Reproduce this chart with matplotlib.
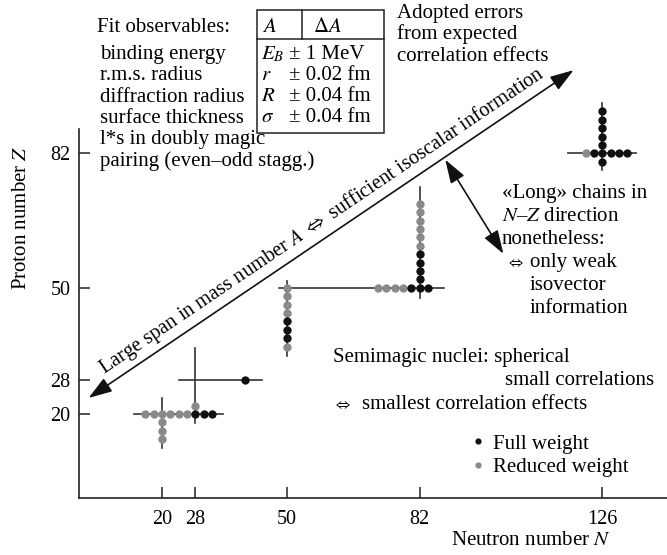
import matplotlib
matplotlib.use("Agg")
import matplotlib.pyplot as plt
from matplotlib.lines import Line2D
from matplotlib.patches import Rectangle

plt.rcParams['font.family'] = ['Liberation Serif', 'DejaVu Serif']
plt.rcParams['mathtext.fontset'] = 'stix'

# nuclei with full weight (black)
full_N = [28, 30, 32, 40, 50, 50, 50, 80, 82, 84, 82, 82, 82, 82,
          126, 126, 126, 126, 126, 126, 126, 124, 128, 130, 132]
full_Z = [20, 20, 20, 28, 42, 40, 38, 50, 50, 50, 52, 54, 56, 58,
          80, 82, 84, 86, 88, 90, 92, 82, 82, 82, 82]

# nuclei with reduced weight (gray)
red_N = [16, 18, 20, 22, 24, 26, 20, 20, 20, 28, 50, 50, 50, 50, 50,
         72, 74, 76, 78, 82, 82, 82, 82, 82, 82, 122]
red_Z = [20, 20, 20, 20, 20, 20, 18, 16, 14, 22, 50, 48, 46, 44, 36,
         50, 50, 50, 50, 60, 62, 64, 66, 68, 70, 82]

# magic-number lines: (Z, N from, N to) and (N, Z from, Z to)
h_lines = [(20, 13.2, 34.7), (28, 24.2, 44.0), (50, 48.1, 87.8), (82, 117.7, 134.1)]
v_lines = [(20, 11.9, 23.9), (28, 17.8, 35.8), (50, 33.8, 51.7), (82, 47.7, 73.9), (126, 78.0, 94.1)]

magic_N = [20, 28, 50, 82, 126]
magic_Z = [20, 28, 50, 82]

W, H = 667, 555
fig = plt.figure(figsize=(W / 100, H / 100), dpi=100)
ax = fig.add_axes([79 / W, 57 / H, (W - 79) / W, (498 - 129) / H])


def px(x, y):
    # pixel position (from top left) -> figure fraction
    return x / W, 1 - y / H


line_col = '#333333'
for z, n0, n1 in h_lines:
    ax.plot([n0, n1], [z, z], color=line_col, lw=1.2, clip_on=False, zorder=2)
for n, z0, z1 in v_lines:
    ax.plot([n, n], [z0, z1], color=line_col, lw=1.2, clip_on=False, zorder=2)

ax.plot(red_N, red_Z, 'o', color='#8a8a8a', ms=6, mec='none', clip_on=False, zorder=3)
ax.plot(full_N, full_Z, 'o', color='#111111', ms=6, mec='none', clip_on=False, zorder=3)

ax.set_xlim(0, 141.6)
ax.set_ylim(0, 87.8)
ax.set_xticks(magic_N)
ax.set_yticks(magic_Z)
ax.spines['top'].set_visible(False)
ax.spines['right'].set_visible(False)
for s in ['left', 'bottom']:
    ax.spines[s].set_linewidth(1.2)
    ax.spines[s].set_color('#222222')
ax.tick_params(direction='in', length=8, width=1.1, labelsize=14.5, color='#222222')
ax.tick_params(axis='x', pad=9)
ax.tick_params(axis='y', pad=6)

fs = 15
ax.set_xlabel('Neutron number $N$', fontsize=fs)
ax.xaxis.set_label_coords((531 - 79) / 588, (498 - 531) / 369)
ax.set_ylabel('Proton number $Z$', fontsize=fs)
ax.yaxis.set_label_coords((31 - 79) / 588, (498 - 218) / 369)

# left text block
left_lines = ['binding energy', 'r.m.s. radius', 'diffraction radius',
              'surface thickness', 'l*s in doubly magic', 'pairing (even\u2013odd stagg.)']
fig.text(*px(97, 32), 'Fit observables:', fontsize=fs, va='baseline')
for i, t in enumerate(left_lines):
    fig.text(*px(100.5, 59 + 21.3 * i), t, fontsize=fs, va='baseline')

# table of adopted errors
tab_sym = ['$E_B$', '$r$', '$R$', r'$\sigma$']
tab_err = ['\u00b1 1 MeV', '\u00b1 0.02 fm', '\u00b1 0.04 fm', '\u00b1 0.04 fm']
fig.add_artist(Rectangle(px(256.7, 132.7), 127.6 / W, 122.7 / H, fill=False,
                         lw=1.1, ec='#222222', transform=fig.transFigure))
fig.add_artist(Line2D([256.7 / W, 384.3 / W], [1 - 39.3 / H] * 2, lw=1.1, color='#222222'))
fig.add_artist(Line2D([301.7 / W] * 2, [1 - 10 / H, 1 - 39.3 / H], lw=1.1, color='#222222'))
fig.text(*px(262, 32), '$A$', fontsize=fs, va='baseline')
fig.text(*px(313, 32), r'$\Delta A$', fontsize=fs, va='baseline')
for i, (s, e) in enumerate(zip(tab_sym, tab_err)):
    fig.text(*px(261, 59 + 21 * i), s, fontsize=fs, va='baseline')
    fig.text(*px(289, 59 + 21 * i), e, fontsize=fs, va='baseline')

for i, t in enumerate(['Adopted errors', 'from expected', 'correlation effects']):
    fig.text(*px(397, 18 + 21.5 * i), t, fontsize=fs, va='baseline')

# long diagonal arrow
ax.annotate('', xy=(2.3, 23.8), xytext=(119.1, 101.8), annotation_clip=False,
            arrowprops=dict(arrowstyle='<|-|>,head_length=0.9,head_width=0.3',
                            mutation_scale=16, lw=1.2, color='#111111',
                            shrinkA=0, shrinkB=0))
fig.text(*px(322, 221),
         r'Large span in mass number $A$ $\Leftrightarrow$ sufficient isoscalar information',
         fontsize=14.7, rotation=34.05, ha='center', va='center', rotation_mode='anchor')

# arrow to the lead chain
ax.annotate('', xy=(88.2, 80.5), xytext=(102.2, 58.1), annotation_clip=False,
            arrowprops=dict(arrowstyle='<|-|>,head_length=0.9,head_width=0.3',
                            mutation_scale=16, lw=1.2, color='#111111',
                            shrinkA=0, shrinkB=0))

long_lines = ['\u00abLong\u00bb chains in', '$N$\u2013$Z$ direction', 'nonetheless:']
for i, t in enumerate(long_lines):
    fig.text(*px(501.5, 198 + 23 * i), t, fontsize=fs, va='baseline')
fig.text(*px(506, 267), r'$\Leftrightarrow$', fontsize=11, va='baseline')
for i, t in enumerate(['only weak', 'isovector', 'information']):
    fig.text(*px(530, 267 + 23 * i), t, fontsize=fs, va='baseline')

fig.text(*px(333, 362), 'Semimagic nuclei: spherical', fontsize=fs, va='baseline')
fig.text(*px(654, 385), 'small correlations', fontsize=fs, va='baseline', ha='right')
fig.text(*px(333, 409), r'$\Leftrightarrow$', fontsize=11, va='baseline')
fig.text(*px(362, 409), 'smallest correlation effects', fontsize=fs, va='baseline')

handles = [Line2D([], [], ls='none', marker='o', ms=4.5, color='#111111', mec='none'),
           Line2D([], [], ls='none', marker='o', ms=4.5, color='#8a8a8a', mec='none')]
fig.legend(handles, ['Full weight', 'Reduced weight'], loc='upper left',
           bbox_to_anchor=px(472, 434), frameon=False, fontsize=fs,
           handlelength=0.6, handletextpad=0.4, labelspacing=0.2, borderpad=0,
           borderaxespad=0)

fig.savefig('out.png', dpi=100)
